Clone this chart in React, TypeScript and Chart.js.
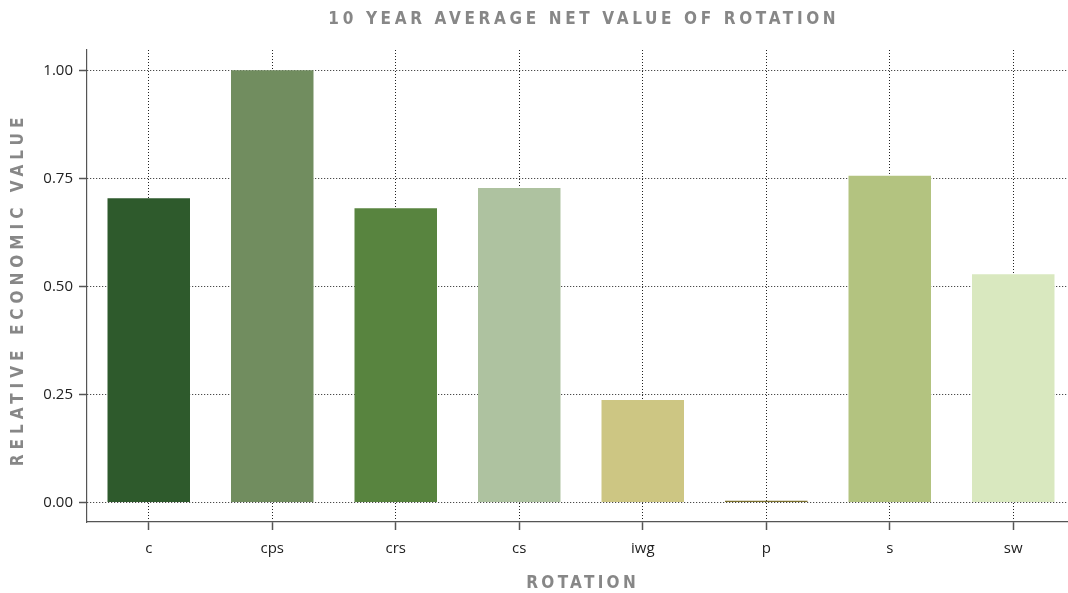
import React, { useEffect, useRef } from 'react';
import { Chart, registerables } from 'chart.js';

Chart.register(...registerables);

const categories = ['c', 'cps', 'crs', 'cs', 'iwg', 'p', 's', 'sw'];
const values = [0.704, 1.0, 0.681, 0.728, 0.237, 0.004, 0.756, 0.528];
const barColors = ['#2e5a2c', '#718d5f', '#58843f', '#aec2a0', '#cdc683', '#7b6f2c', '#b3c380', '#d9e8bf'];
const yTickValues = [0, 0.25, 0.5, 0.75, 1.0];
const chartTitle = '10 YEAR AVERAGE NET VALUE OF ROTATION';
const xAxisTitle = 'ROTATION';
const yAxisTitle = 'RELATIVE ECONOMIC VALUE';

const TITLE_FONT = 'bold 17px "DejaVu Sans Condensed", "DejaVu Sans", sans-serif';
const TITLE_COLOR = '#878787';

function drawSpaced(ctx: CanvasRenderingContext2D, text: string, x: number, y: number, spacing: number) {
  (ctx as any).letterSpacing = spacing + 'px';
  ctx.fillText(text, x + spacing / 2, y);
}

const titlesPlugin = {
  id: 'spacedTitles',
  afterDraw(chart: any) {
    const { ctx, chartArea } = chart;
    const cx = (chartArea.left + chartArea.right) / 2;
    const cy = (chartArea.top + chartArea.bottom) / 2;
    ctx.save();
    ctx.fillStyle = TITLE_COLOR;
    ctx.textAlign = 'center';
    ctx.textBaseline = 'middle';
    ctx.font = TITLE_FONT;
    drawSpaced(ctx, chartTitle, cx + 1, 20, 3.65);
    drawSpaced(ctx, xAxisTitle, cx, 584, 3.3);
    ctx.translate(19, cy + 6);
    ctx.rotate(-Math.PI / 2);
    drawSpaced(ctx, yAxisTitle, 0, 0, 5);
    ctx.restore();
  },
};

export default function App() {
  const canvasRef = useRef<HTMLCanvasElement | null>(null);

  useEffect(() => {
    document.body.style.margin = '0';
    document.body.style.overflow = 'hidden';
    const canvas = canvasRef.current;
    if (!canvas) return;
    const gridOpts = {
      color: '#222',
      lineWidth: 1,
      drawTicks: true,
      tickLength: 8,
      tickColor: '#555',
      tickBorderDash: [],
      tickWidth: 1.5,
    };
    const borderOpts = { display: true, color: '#555', width: 1.2, dash: [1, 2] };
    const chart = new Chart(canvas, {
      type: 'bar',
      data: {
        labels: categories,
        datasets: [
          {
            data: values,
            backgroundColor: barColors,
            borderWidth: 0,
            barPercentage: 0.668,
            categoryPercentage: 1,
          },
        ],
      },
      plugins: [titlesPlugin],
      options: {
        responsive: false,
        animation: false,
        layout: { padding: { top: 50, right: 3, left: 0, bottom: 0 } },
        plugins: {
          legend: { display: false },
          title: { display: false },
          tooltip: { enabled: false },
        },
        scales: {
          x: {
            z: 1,
            offset: true,
            grid: { ...gridOpts, offset: false } as any,
            border: borderOpts as any,
            ticks: {
              color: '#222',
              font: { family: '"Open Sans", sans-serif', size: 15 },
              padding: 10,
              maxRotation: 0,
            },
            afterFit: (scale: any) => {
              scale.height = 71;
            },
          },
          y: {
            z: 1,
            min: -0.045,
            max: 1.047,
            afterBuildTicks: (scale: any) => {
              scale.ticks = yTickValues.map((v) => ({ value: v }));
            },
            grid: gridOpts as any,
            border: borderOpts as any,
            ticks: {
              color: '#222',
              font: { family: '"Open Sans", sans-serif', size: 15 },
              padding: 6,
              callback: (v: any) => Number(v).toFixed(2),
            },
            afterFit: (scale: any) => {
              scale.width = 87;
            },
          },
        },
      },
    });
    return () => chart.destroy();
  }, []);

  return (
    <div style={{ width: 1068, height: 593, overflow: 'hidden', position: 'relative' }}>
      <canvas ref={canvasRef} width={1078} height={593} style={{ display: 'block' }} />
    </div>
  );
}
